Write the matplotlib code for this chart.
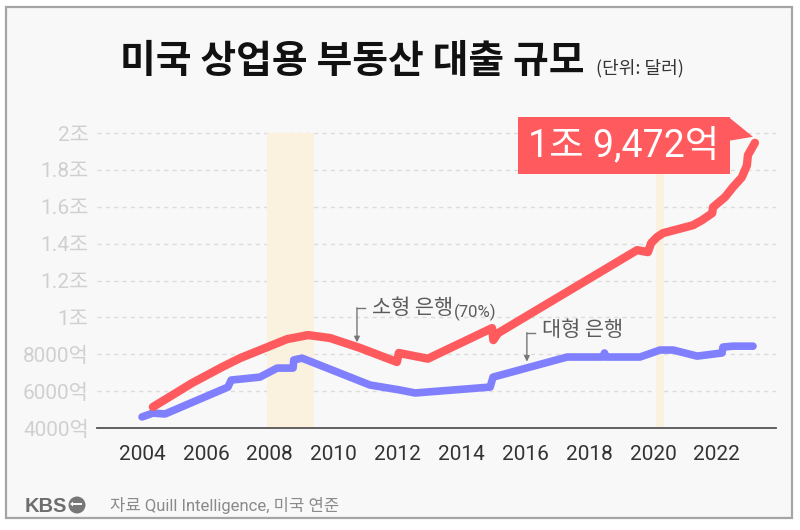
import matplotlib
matplotlib.use('Agg')
import matplotlib.pyplot as plt
import matplotlib.patches as patches
import matplotlib.transforms as mtransforms

plt.rcParams['font.family'] = ['Roboto', 'Noto Sans CJK KR', 'DejaVu Sans']

# 미국 상업용 부동산 대출 (단위: 억 달러)
years_small = [2004.34, 2005.57, 2006.50, 2007.07, 2008.54, 2009.20, 2009.89, 2010.83,
               2011.98, 2012.04, 2012.95, 2014.96, 2015.00, 2015.15, 2019.50, 2019.84,
               2019.94, 2020.12, 2020.31, 2021.25, 2021.53, 2021.85, 2021.88, 2022.25,
               2022.50, 2022.78, 2022.94, 2022.97, 2023.19]
small_bank = [5140, 6440, 7300, 7790, 8820, 9040, 8880, 8340,
              7580, 8070, 7760, 9420, 8770, 9150, 13650, 13540,
              14030, 14350, 14570, 15000, 15270, 15650, 15980, 16520,
              17060, 17600, 18250, 18800, 19472]

years_large = [2004.00, 2004.34, 2004.72, 2006.69, 2006.79, 2007.69, 2008.23, 2008.73,
               2008.75, 2009.01, 2011.14, 2012.08, 2012.55, 2014.90, 2014.99, 2017.31,
               2018.43, 2018.48, 2018.53, 2019.59, 2020.22, 2020.63, 2021.38, 2022.16,
               2022.19, 2022.50, 2023.13]
large_bank = [4600, 4810, 4760, 6220, 6600, 6760, 7250, 7250,
              7690, 7790, 6330, 6060, 5900, 6220, 6760, 7850,
              7850, 8070, 7850, 7850, 8230, 8230, 7900, 8070,
              8390, 8440, 8440]

recessions = [(2007.9, 2009.4), (2020.1, 2020.35)]

yticks = [4000, 6000, 8000, 10000, 12000, 14000, 16000, 18000, 20000]
ytick_labels = ['4000억', '6000억', '8000억', '1조', '1.2조', '1.4조', '1.6조', '1.8조', '2조']
xticks = list(range(2004, 2023, 2))

red = '#FF5A5E'
blue = '#8080FF'

fig = plt.figure(figsize=(8, 5.3), dpi=100)
fig.patch.set_facecolor('white')
fig.add_artist(patches.Rectangle((6 / 800, 1 - 518 / 530), 786 / 800, 511 / 530,
                                 transform=fig.transFigure, fc='#F8F8F8', ec='#A5A5A5',
                                 lw=1.6, zorder=0))

ax = fig.add_axes([97 / 800, 1 - 428 / 530, (776 - 97) / 800, (428 - 122) / 530])
ax.set_facecolor('none')
ax.set_xlim(2002.59, 2023.85)
ax.set_ylim(4000, 20600)

top_frac = (yticks[-1] - 4000) / (20600 - 4000)
for a, b in recessions:
    ax.axvspan(a, b, ymin=0, ymax=top_frac, color='#FBF1DF', lw=0, zorder=1)

ax.plot(years_large, large_bank, color=blue, lw=5.5, solid_capstyle='round',
        solid_joinstyle='round', zorder=3)
ax.plot(years_small, small_bank, color=red, lw=6, solid_capstyle='round',
        solid_joinstyle='round', zorder=4)

ax.set_yticks(yticks)
ax.set_yticklabels(ytick_labels)
ax.set_xticks(xticks)
ax.set_xticklabels([str(x) for x in xticks])
ax.tick_params(axis='y', length=0, pad=6, labelsize=15, labelcolor='#D0D0D0')
ax.tick_params(axis='x', length=0, pad=12, labelsize=15, labelcolor='#333333')
ax.yaxis.grid(True, color='#DCDCDC', linestyle=(0, (3, 3)), lw=1)
ax.set_axisbelow(True)
for s in ['top', 'right', 'left']:
    ax.spines[s].set_visible(False)
ax.spines['bottom'].set_color('#555555')
ax.spines['bottom'].set_linewidth(1.3)

# series labels with bracket arrows
lab_color = '#5A5A5A'
small_lab = ax.text(2011.2, 10500, '소형 은행', fontsize=15, color=lab_color, ha='left',
                    va='center', family='Noto Sans CJK KR', zorder=5)
pct_lab = ax.text(2013.96, 10250, '(70%)', fontsize=12, color=lab_color, ha='left',
                  va='center', zorder=5)
ax.plot([2010.73, 2010.98], [10500, 10500], color='#777777', lw=1, zorder=5)
ax.annotate('', xy=(2010.73, 8650), xytext=(2010.73, 10520),
            arrowprops=dict(arrowstyle='-|>', color='#777777', lw=1, mutation_scale=8,
                            shrinkA=0, shrinkB=0), zorder=5)

ax.text(2016.52, 9310, '대형 은행', fontsize=15, color=lab_color, ha='left', va='center',
        family='Noto Sans CJK KR', zorder=5)
ax.plot([2016.05, 2016.3], [9150, 9150], color='#777777', lw=1, zorder=5)
ax.annotate('', xy=(2016.05, 7600), xytext=(2016.05, 9170),
            arrowprops=dict(arrowstyle='-|>', color='#777777', lw=1, mutation_scale=8,
                            shrinkA=0, shrinkB=0), zorder=5)

# callout box for the latest value
ident = mtransforms.IdentityTransform()
ex, ey = ax.transData.transform((years_small[-1], small_bank[-1]))
fig.add_artist(patches.Rectangle((ex - 237, ey - 31.5), 212, 57, transform=ident,
                                 fc=red, ec='none', zorder=10))
fig.add_artist(patches.Polygon([(ex - 26, ey + 25.5), (ex - 2, ey + 6), (ex - 26, ey + 2)],
                               closed=True, transform=ident, fc=red, ec='none', zorder=10))
fig.text(ex - 131, ey - 3, '1조 9,472억', transform=ident, fontsize=27, color='white',
         ha='center', va='center', zorder=11)

# title
title = fig.text(0.5, 1 - 62 / 530, '미국 상업용 부동산 대출 규모', fontsize=28,
                 fontweight='bold', color='#111111', ha='left', va='center',
                 family='Noto Sans CJK KR')
sub = fig.text(0.5, 1 - 68 / 530, '(단위: 달러)', fontsize=13, color='#333333',
               ha='left', va='center', family='Noto Sans CJK KR')
fig.canvas.draw()
r = fig.canvas.get_renderer()
tw = title.get_window_extent(r).width
sw = sub.get_window_extent(r).width
gap = 12
start = 402 - (tw + gap + sw) / 2
title.set_x(start / 800)
sub.set_x((start + tw + gap) / 800)

# put (70%) right after the label text
end_px = small_lab.get_window_extent(r).x1
pct_lab.set_x(ax.transData.inverted().transform((end_px + 1, 0))[0])

# footer
fig.text(25 / 800, 1 - 506 / 530, 'KBS', fontsize=14.5, fontweight='bold', color='#6E6E6E',
         ha='left', va='center', family='Liberation Sans')
fig.add_artist(patches.Circle((77, 530 - 505), 8.5, transform=ident, fc='#777777',
                              ec='none', zorder=5))
fig.add_artist(patches.FancyArrow(82, 530 - 504, -9, 0, width=2, head_width=5, head_length=3,
                                  transform=ident, fc='#F8F8F8', ec='none', zorder=6))
fig.text(110 / 800, 1 - 506 / 530, '자료 Quill Intelligence, 미국 연준', fontsize=12,
         color='#8A8A8A', ha='left', va='center')

fig.savefig('out.png', dpi=100)
